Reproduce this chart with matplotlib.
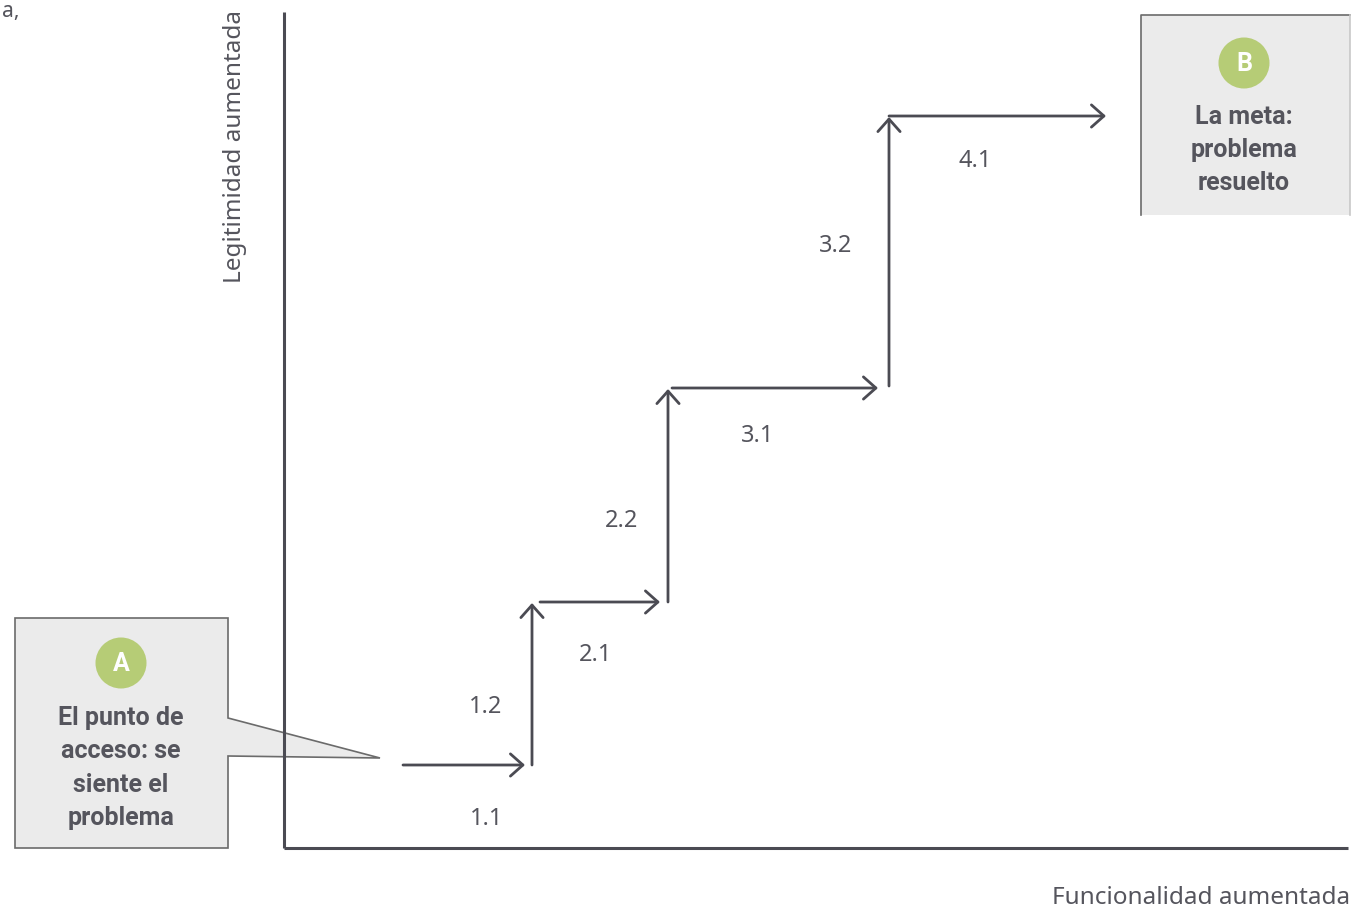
import matplotlib.pyplot as plt
from matplotlib.patches import Polygon, Circle, Rectangle

# step arrows of the staircase (pixel units of the diagram, y grows downwards)
steps = ['1.1', '1.2', '2.1', '2.2', '3.1', '3.2', '4.1']
x_start = [403, 532, 540, 668, 672, 889, 889]
y_start = [765, 765, 602, 602, 388, 386, 116]
x_end = [525, 532, 660, 668, 878, 889, 1106]
y_end = [765, 603, 602, 389, 388, 117, 116]
label_x = [487, 486, 596, 622, 758, 836, 975]
label_y = [819, 707, 655, 521, 436, 246, 161]

# callout boxes
box_letters = ['A', 'B']
box_texts = ['El punto de\nacceso: se\nsiente el\nproblema', 'La meta:\nproblema\nresuelto']

dark = '#4b4b53'
txt = '#55555d'
green = '#b6cc76'
grey_fill = '#ebebeb'
font = ['Noto Sans', 'DejaVu Sans']
bold_font = ['Roboto', 'DejaVu Sans']

fig = plt.figure(figsize=(13.7, 9.16), dpi=100)
ax = fig.add_axes([0, 0, 1, 1])
ax.set_xlim(0, 1370)
ax.set_ylim(916, 0)
ax.axis('off')

# box A with pointer
polyA = Polygon([(15, 618), (228, 618), (228, 718), (380, 758), (228, 756), (228, 848), (15, 848)],
                closed=True, facecolor=grey_fill, edgecolor='#6b6b6b', lw=1.2, zorder=1)
ax.add_patch(polyA)
# box B (dark left/top edge, light right edge, open bottom)
ax.add_patch(Rectangle((1141, 15), 209, 200, facecolor=grey_fill, edgecolor='none', zorder=1))
ax.plot([1141, 1141, 1350], [215, 15, 15], color='#6b6b6b', lw=1.2, zorder=1)
ax.plot([1350, 1350], [15, 215], color='#c8c8c8', lw=1.2, zorder=1)

# axes lines
ax.plot([284, 284], [12, 848], color=dark, lw=2.2, zorder=3, solid_capstyle='butt')
ax.plot([284, 1348], [848, 848], color=dark, lw=2.2, zorder=3, solid_capstyle='butt')

# staircase arrows
for i in range(len(steps)):
    ax.annotate('', xy=(x_end[i], y_end[i]), xytext=(x_start[i], y_start[i]),
                arrowprops=dict(arrowstyle='->,head_length=0.45,head_width=0.4', mutation_scale=20,
                                color=dark, lw=2, shrinkA=0, shrinkB=0), zorder=4)
    ax.text(label_x[i], label_y[i], steps[i], ha='center', va='center', fontsize=17,
            color=txt, family=font)

# circles and box texts
circle_xy = [(121, 663), (1244, 63)]
text_xy = [(121, 768), (1244, 150)]
for i in range(2):
    ax.add_patch(Circle(circle_xy[i], 25.5, facecolor=green, edgecolor='none', zorder=2))
    ax.text(circle_xy[i][0], circle_xy[i][1] + 1, box_letters[i], ha='center', va='center',
            fontsize=18, fontweight='bold', color='white', family=bold_font, zorder=3)
    ax.text(text_xy[i][0], text_xy[i][1], box_texts[i], ha='center', va='center', fontsize=18,
            fontweight='bold', color=txt, family=bold_font, linespacing=1.5, zorder=3)

# axis titles
ax.text(235, 10, 'Legitimidad aumentada', rotation=90, ha='center', va='top', fontsize=17.5,
        color=txt, family=font)
ax.text(1350, 898, 'Funcionalidad aumentada', ha='right', va='center', fontsize=17.5,
        color=txt, family=font)
ax.text(2, 17, 'a,', ha='left', va='baseline', fontsize=15, color=txt, family=font)

fig.savefig('out.png', dpi=100)
